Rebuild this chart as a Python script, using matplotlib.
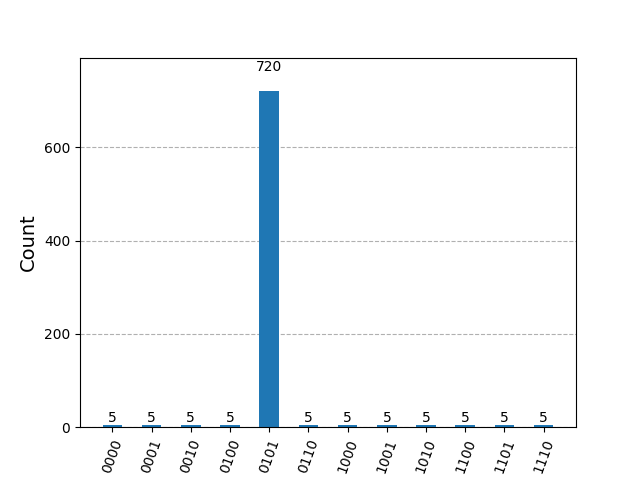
import matplotlib
matplotlib.use("Agg")
import matplotlib.pyplot as plt
from matplotlib.ticker import MultipleLocator
import numpy as np

labels = ["0000", "0001", "0010", "0100", "0101", "0110", "1000", "1001", "1010", "1100", "1101", "1110"]
counts = [5, 5, 5, 5, 720, 5, 5, 5, 5, 5, 5, 5]

fig, ax = plt.subplots(figsize=(6.4, 4.8), dpi=100)
x = np.arange(len(labels))
bars = ax.bar(x, counts, width=0.5, color="#1f77b4", zorder=2)
ax.set_xticks(x)
ax.set_xticklabels(labels, rotation=70)
ax.set_ylabel("Count", fontsize=14)
ax.set_ylim(0, max(counts) * 1.1)
ax.yaxis.set_major_locator(MultipleLocator(200))
ax.yaxis.grid(True, linestyle="--", zorder=0)
ax.set_axisbelow(True)
for rect, c in zip(bars, counts):
    ax.text(rect.get_x() + rect.get_width() / 2.0, 1.05 * rect.get_height(), str(c),
            ha="center", va="bottom", fontsize=10)
fig.savefig("out.png", dpi=100)
